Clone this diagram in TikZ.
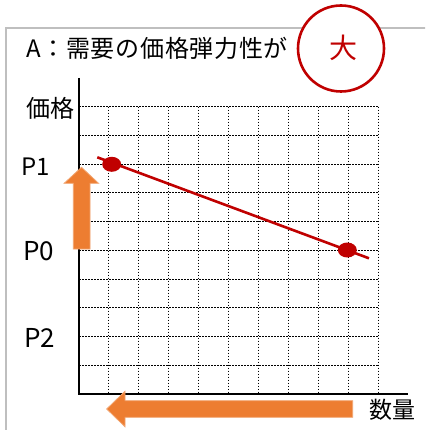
\documentclass[tikz,border=0pt]{standalone}
\usepackage{fontspec}
\setmainfont{Noto Sans CJK JP}
\usetikzlibrary{shapes.geometric}
\definecolor{aorange}{HTML}{ED7D31}
\definecolor{ared}{HTML}{C00000}
\definecolor{aframe}{HTML}{BFBFBF}
\tikzset{
  gridline/.style={black, line width=0.9pt, dash pattern=on 1.6pt off 1.4pt},
  axisline/.style={black, line width=1.8pt},
  lbl/.style={inner sep=0pt, font=\fontsize{24}{24}\selectfont},
  reddot/.style={ellipse, fill=ared, draw=none, minimum width=19pt, minimum height=15pt, inner sep=0pt},
  bigarrow/.style={fill=aorange, draw=aorange!70!white, line width=0.8pt},
}
\begin{document}
\begin{tikzpicture}[x=1pt,y=-1pt]
\useasboundingbox (0,0) rectangle (425,430);
\fill[white] (0,0) rectangle (425,430);
\begin{scope}
\clip (0,0) rectangle (425,430);
\draw[aframe, line width=1.6pt] (6,28) rectangle (440,445);
\end{scope}
% grid
\foreach \i in {1,...,10} {
  \draw[gridline] ({79+29.93*\i},106.7) -- ({79+29.93*\i},394);
}
\foreach \j in {0,...,9} {
  \draw[gridline] (79,{106.7+28.73*\j}) -- (378.3,{106.7+28.73*\j});
}
% axes
\coordinate (ytop) at (79,78);
\coordinate (origin) at (79,394);
\coordinate (xend) at (408.3,394);
\draw[axisline] (ytop) -- (origin) -- (xend);
% labels
\node[lbl, anchor=west] (title) at (26,48) {\addfontfeature{LetterSpace=3}A：需要の価格弾力性が};
\node[draw=ared, line width=2.6pt, fill=white, circle, minimum size=86pt, inner sep=0pt] (circ) at (341,48.5) {};
\node[lbl, text=ared, font=\fontsize{28}{28}\selectfont] (dai) at (343,48) {大};
\node[lbl] (price) at (50,108) {価格};
\node[lbl] (p1) at (36,166.5) {P1};
\node[lbl, font=\fontsize{26}{26}\selectfont] (p0) at (38.5,251.5) {P0};
\node[lbl, font=\fontsize{26}{26}\selectfont] (p2) at (39.5,338) {P2};
\node[lbl, font=\fontsize{23}{23}\selectfont] (qty) at (392.7,409.3) {数量};
% demand line
\coordinate (ds) at (97.3,157.3);
\coordinate (de) at (369,258.3);
\draw[ared, line width=2.6pt] (ds) -- (de);
\node[reddot] (d1) at (111.7,164.3) {};
\node[reddot] (d0) at (347.3,250) {};
% orange arrows
\fill[bigarrow] (73.3,249) -- (73.3,183.3) -- (64.2,183.3) -- (81.5,167.3) -- (98.5,183.3) -- (90,183.3) -- (90,249) -- cycle;
\fill[bigarrow] (352.7,400.7) -- (125,400.7) -- (125,391.3) -- (106.7,409) -- (125,426.7) -- (125,417.3) -- (352.7,417.3) -- cycle;
\end{tikzpicture}
\end{document}
